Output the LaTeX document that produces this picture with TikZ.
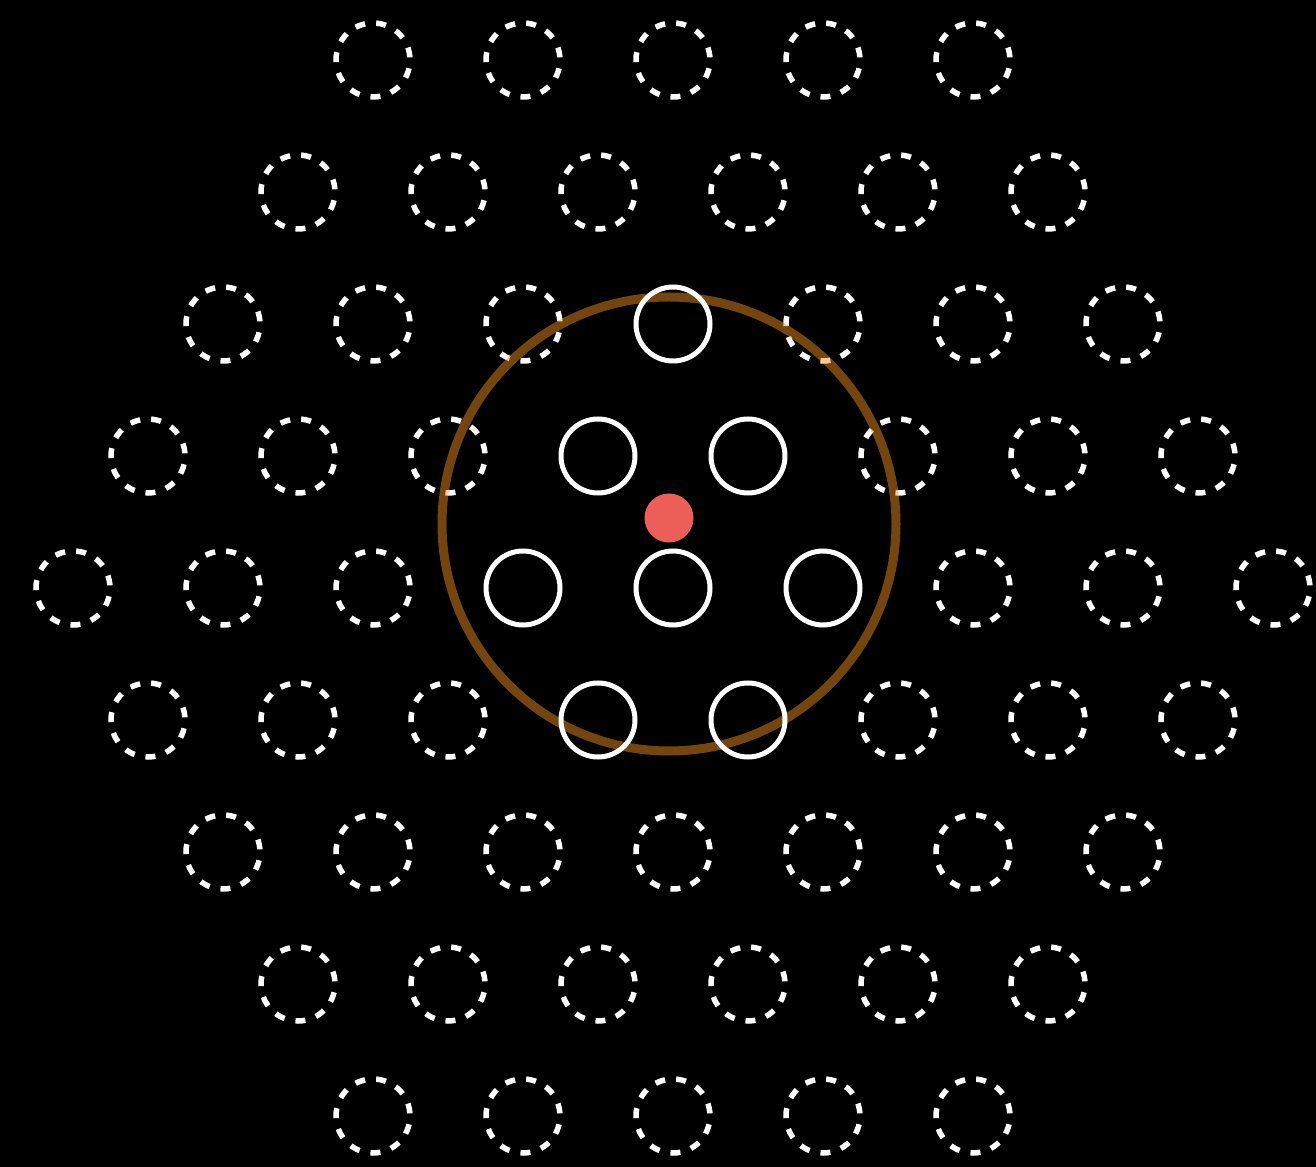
\documentclass[tikz,border=0pt]{standalone}
\usepackage{tikz}

\definecolor{haloorange}{RGB}{244,146,31}
\definecolor{dotred}{RGB}{236,94,88}

\begin{document}
\begin{tikzpicture}[
    x=1cm, y=1cm,
    dashring/.style={draw=white, line width=0.055cm, dash pattern=on 0.10cm off 0.1114cm, dash phase=0.185cm},
    ring/.style={draw=white, line width=0.05cm},
    halo/.style={draw=haloorange, draw opacity=0.48, line width=0.09cm},
    dot/.style={fill=dotred}
]
\useasboundingbox (0,0) rectangle (13.16,-11.67);
\fill[black] (0,0) rectangle (13.16,-11.67);

% lattice of dashed sites
\foreach \r in {0,...,8}{
  \pgfmathtruncatemacro\off{abs(\r-4)}
  \pgfmathtruncatemacro\last{8-\off}
  \foreach \k in {0,...,\last}{
    \pgfmathtruncatemacro\xx{73+75*\off+150*\k}
    \pgfmathtruncatemacro\solid{(\r==2 && \xx==673) || ((\r==3 || \r==5) && (\xx==598 || \xx==748)) || (\r==4 && \xx>=523 && \xx<=823)}
    \coordinate (s-\r-\k) at (\xx/100, -0.6-1.32*\r);
    \ifnum\solid=0
      \draw[dashring] (s-\r-\k) circle (0.37);
    \fi
  }
}

% neighbourhood
\coordinate (hc) at (6.69,-5.24);
\draw[halo] (hc) circle (2.27);

% occupied sites
\foreach \r/\k in {2/3, 3/3, 3/4, 4/3, 4/4, 4/5, 5/3, 5/4}{
  \draw[ring] (s-\r-\k) circle (0.37);
}

\coordinate (probe) at (6.69,-5.18);
\fill[dot] (probe) circle (0.245);
\end{tikzpicture}
\end{document}
